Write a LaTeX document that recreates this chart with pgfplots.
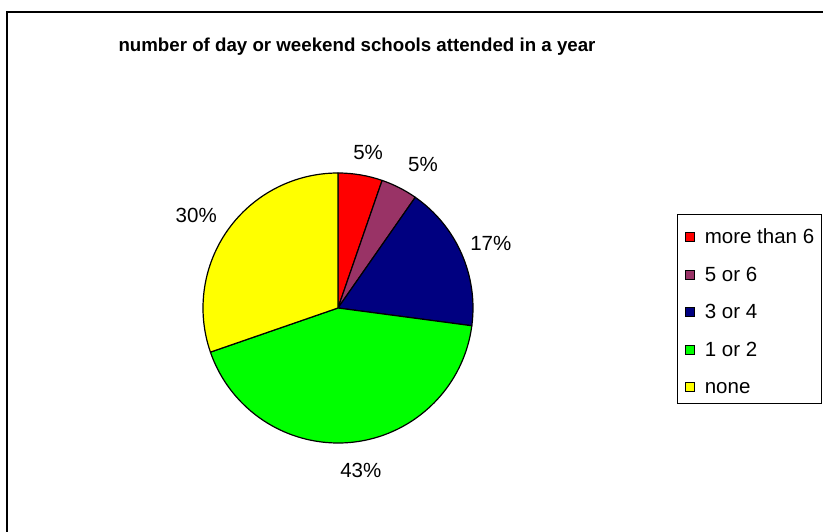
\documentclass[border=0pt]{standalone}
\usepackage{pgfplots}
\pgfplotsset{compat=1.18}
\usepackage{pgfplotstable}
\usepackage{fontspec}
\setmainfont{Liberation Sans}

\definecolor{moresix}{HTML}{FF0000}
\definecolor{fivesix}{HTML}{993366}
\definecolor{threefour}{HTML}{000080}
\definecolor{onetwo}{HTML}{00FF00}
\definecolor{nonecol}{HTML}{FFFF00}

% share in percent, clockwise from 12 o'clock; shown = printed label,
% lblang/lblrad = where the label sits (degrees, radii)
\pgfplotstableread[col sep=comma]{
group,share,shown,colour,lblang,lblrad
more than 6,5.3,5,moresix,79,1.17
5 or 6,4.4,5,fivesix,59.4,1.237
3 or 4,17.4,17,threefour,23,1.23
1 or 2,42.6,43,onetwo,-82,1.215
none,30.3,30,nonecol,147,1.252
}\schools

\newcommand\lblfont{\fontsize{20.5}{24}\selectfont}

\begin{document}
\begin{tikzpicture}
\useasboundingbox (0,0) rectangle (823pt,532pt);
\clip (0,0) rectangle (823pt,532pt);
\draw[line width=2pt] (7pt,-10pt) |- (840pt,520pt);
\begin{axis}[
  at={(203pt,89pt)}, anchor=south west,
  width=270pt, height=270pt, scale only axis,
  xmin=-1, xmax=1, ymin=-1, ymax=1,
  hide axis, clip=false,
  title={number of day or weekend schools attended in a year},
  title style={at={(0.5704,1.444)}, anchor=center,
    font=\bfseries\fontsize{18.7}{22}\selectfont},
  legend style={at={(1.7556,0.848)}, anchor=north west, draw=black, line width=1pt,
    inner xsep=7pt, inner ysep=5pt, font=\lblfont, cells={anchor=base west},
    nodes={inner sep=0pt, text height=24.4pt, text depth=4.6pt},
    row sep=8.5pt,
    /tikz/every odd column/.append style={column sep=10pt}},
  legend image code/.code={\draw[#1,line width=1.3pt] (0pt,2.2pt) rectangle (9pt,11.2pt);},
]
\addlegendimage{fill=moresix,draw=black}\addlegendentry{more than 6}
\addlegendimage{fill=fivesix,draw=black}\addlegendentry{5 or 6}
\addlegendimage{fill=threefour,draw=black}\addlegendentry{3 or 4}
\addlegendimage{fill=onetwo,draw=black}\addlegendentry{1 or 2}
\addlegendimage{fill=nonecol,draw=black}\addlegendentry{none}

\pgfplotsextra{%
  \def\cum{0}%
  \pgfplotsforeachungrouped \r in {0,...,4}{%
    \pgfplotstablegetelem{\r}{share}\of\schools \let\val\pgfplotsretval
    \pgfplotstablegetelem{\r}{shown}\of\schools \let\pct\pgfplotsretval
    \pgfplotstablegetelem{\r}{colour}\of\schools \let\col\pgfplotsretval
    \pgfplotstablegetelem{\r}{lblang}\of\schools \let\la\pgfplotsretval
    \pgfplotstablegetelem{\r}{lblrad}\of\schools \let\lr\pgfplotsretval
    \pgfmathsetmacro\sa{90-3.6*\cum}%
    \pgfmathsetmacro\ea{90-3.6*(\cum+\val)}%
    \pgfmathsetmacro\xs{cos(\sa)}%
    \pgfmathsetmacro\ys{sin(\sa)}%
    \pgfmathsetmacro\lx{\lr*cos(\la)}%
    \pgfmathsetmacro\ly{\lr*sin(\la)}%
    \filldraw[fill=\col, draw=black, line width=1.2pt, line join=round]
      (axis cs:0,0) -- (axis cs:\xs,\ys) arc[start angle=\sa, end angle=\ea, radius=135pt] -- cycle;
    \node[font=\lblfont] at (axis cs:\lx,\ly) {\pct\%};
    \pgfmathsetmacro\cum{\cum+\val}%
  }%
}
\end{axis}
\end{tikzpicture}
\end{document}
